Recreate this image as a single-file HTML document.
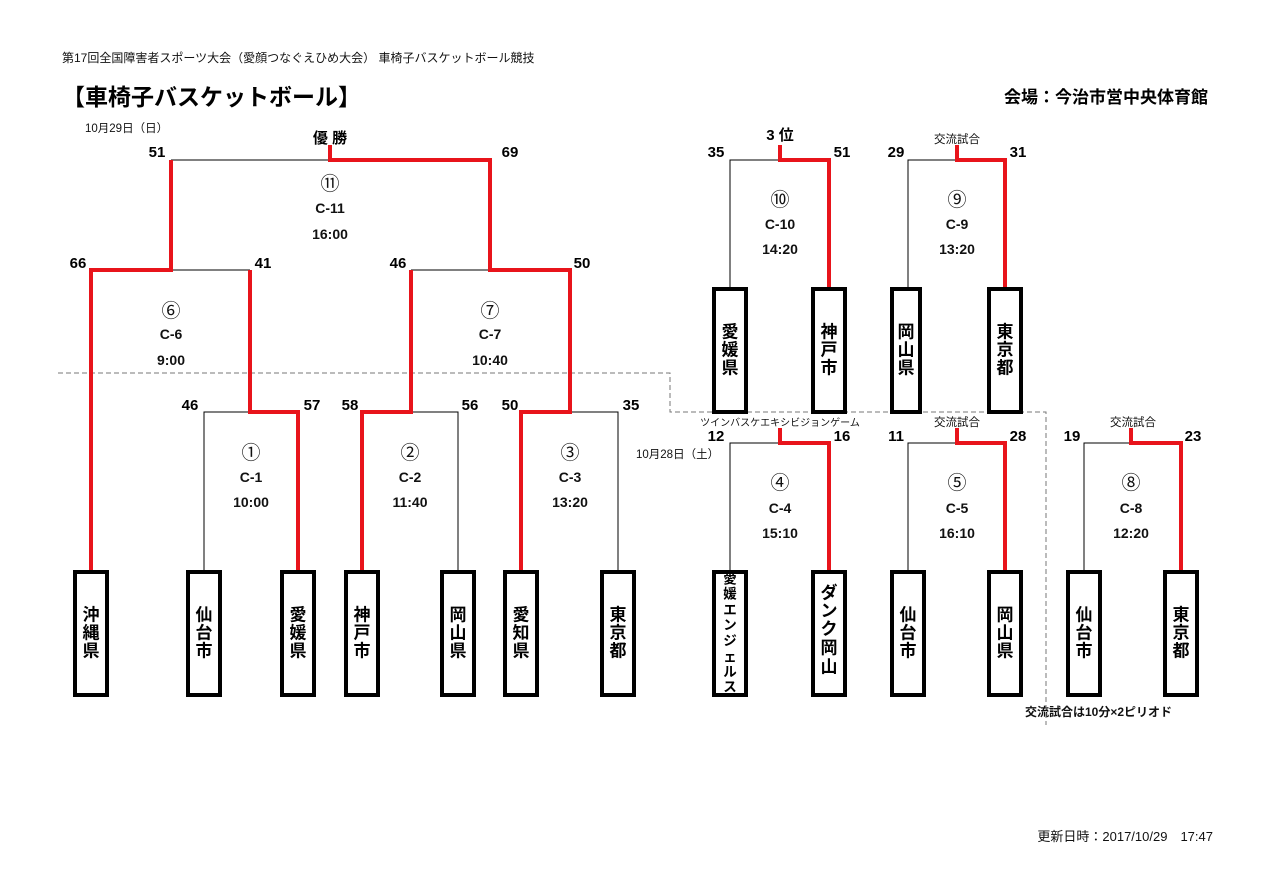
<!DOCTYPE html>
<html><head><meta charset="utf-8"><style>
html,body{margin:0;padding:0;background:#fff;}
svg{display:block;font-family:"Liberation Sans","Noto Sans CJK JP",sans-serif;}
.s{font-size:15px;font-weight:bold;text-anchor:middle;}
.c{font-size:14px;font-weight:bold;text-anchor:middle;fill:#111;}
.n{font-size:19px;font-weight:normal;}
.v{font-size:17px;font-weight:bold;text-anchor:middle;dominant-baseline:central;}
.sm{font-size:11.5px;fill:#111;}
</style></head><body>
<svg width="1271" height="895" viewBox="0 0 1271 895" xmlns="http://www.w3.org/2000/svg">
<text x="62" y="62" class="sm" style="font-size:12px">第17回全国障害者スポーツ大会（愛顔つなぐえひめ大会）  車椅子バスケットボール競技</text>
<text x="62" y="105" style="font-size:23px;font-weight:bold">【車椅子バスケットボール】</text>
<text x="1208" y="103" style="font-size:17px;font-weight:bold;text-anchor:end">会場：今治市営中央体育館</text>
<text x="85" y="132" class="sm">10月29日（日）</text>
<text x="636" y="458" class="sm">10月28日（土）</text>
<text x="780" y="426" class="sm" style="text-anchor:middle;font-size:10px">ツインバスケエキシビジョンゲーム</text>
<text x="957" y="143" class="sm" style="text-anchor:middle">交流試合</text>
<text x="957" y="426" class="sm" style="text-anchor:middle">交流試合</text>
<text x="1133" y="426" class="sm" style="text-anchor:middle">交流試合</text>
<text x="1025" y="716" class="sm" style="font-size:12px;font-weight:bold">交流試合は10分×2ピリオド</text>
<text x="1213" y="841" style="font-size:13px;text-anchor:end;fill:#111">更新日時：2017/10/29　17:47</text>

<path d="M58 373 H670 V412 H1046 V725" fill="none" stroke="#777" stroke-width="1" stroke-dasharray="5,3"/>

<g stroke="#000" stroke-width="1" fill="none">
<path d="M171 160 H330"/>
<path d="M171 270 H250"/>
<path d="M411 270 H490"/>
<path d="M204 570 V412 H250"/>
<path d="M411 412 H458 V570"/>
<path d="M570 412 H618 V570"/>
<path d="M730 287 V160 H780"/>
<path d="M908 287 V160 H957"/>
<path d="M730 570 V443 H780"/>
<path d="M908 570 V443 H957"/>
<path d="M1084 570 V443 H1131"/>
</g>
<g stroke="#e8141b" stroke-width="4" fill="none">
<path d="M330 145 V160 H490 V270 H570 V412 H521 V570"/>
<path d="M171 160 V270 H91 V570"/>
<path d="M250 270 V412 H298 V570"/>
<path d="M411 270 V412 H362 V570"/>
<path d="M780 145 V160 H829 V287"/>
<path d="M957 145 V160 H1005 V287"/>
<path d="M780 428 V443 H829 V570"/>
<path d="M957 428 V443 H1005 V570"/>
<path d="M1131 428 V443 H1181 V570"/>
</g>

<g stroke="#000" stroke-width="4" fill="#fff">
<rect x="75" y="572" width="32" height="123"/>
<rect x="188" y="572" width="32" height="123"/>
<rect x="282" y="572" width="32" height="123"/>
<rect x="346" y="572" width="32" height="123"/>
<rect x="442" y="572" width="32" height="123"/>
<rect x="505" y="572" width="32" height="123"/>
<rect x="602" y="572" width="32" height="123"/>
<rect x="714" y="289" width="32" height="123"/>
<rect x="813" y="289" width="32" height="123"/>
<rect x="892" y="289" width="28" height="123"/>
<rect x="989" y="289" width="32" height="123"/>
<rect x="714" y="572" width="32" height="123"/>
<rect x="813" y="572" width="32" height="123"/>
<rect x="892" y="572" width="32" height="123"/>
<rect x="989" y="572" width="32" height="123"/>
<rect x="1068" y="572" width="32" height="123"/>
<rect x="1165" y="572" width="32" height="123"/>
</g>

<g class="s">
<text x="330" y="143">優 勝</text>
<text x="157" y="157">51</text><text x="510" y="157">69</text>
<text x="78" y="268">66</text><text x="263" y="268">41</text>
<text x="398" y="268">46</text><text x="582" y="268">50</text>
<text x="190" y="410">46</text><text x="312" y="410">57</text>
<text x="350" y="410">58</text><text x="470" y="410">56</text>
<text x="510" y="410">50</text><text x="631" y="410">35</text>
<text x="780" y="140">3 位</text>
<text x="716" y="157">35</text><text x="842" y="157">51</text>
<text x="896" y="157">29</text><text x="1018" y="157">31</text>
<text x="716" y="441">12</text><text x="842" y="441">16</text>
<text x="896" y="441">11</text><text x="1018" y="441">28</text>
<text x="1072" y="441">19</text><text x="1193" y="441">23</text>
</g>

<g class="c">
<text x="330" y="190" class="n">⑪</text><text x="330" y="213">C-11</text><text x="330" y="239">16:00</text>
<text x="171" y="317" class="n">⑥</text><text x="171" y="339">C-6</text><text x="171" y="365">9:00</text>
<text x="490" y="317" class="n">⑦</text><text x="490" y="339">C-7</text><text x="490" y="365">10:40</text>
<text x="251" y="459" class="n">①</text><text x="251" y="482">C-1</text><text x="251" y="507">10:00</text>
<text x="410" y="459" class="n">②</text><text x="410" y="482">C-2</text><text x="410" y="507">11:40</text>
<text x="570" y="459" class="n">③</text><text x="570" y="482">C-3</text><text x="570" y="507">13:20</text>
<text x="780" y="206" class="n">⑩</text><text x="780" y="229">C-10</text><text x="780" y="254">14:20</text>
<text x="957" y="206" class="n">⑨</text><text x="957" y="229">C-9</text><text x="957" y="254">13:20</text>
<text x="780" y="489" class="n">④</text><text x="780" y="513">C-4</text><text x="780" y="538">15:10</text>
<text x="957" y="489" class="n">⑤</text><text x="957" y="513">C-5</text><text x="957" y="538">16:10</text>
<text x="1131" y="489" class="n">⑧</text><text x="1131" y="513">C-8</text><text x="1131" y="538">12:20</text>
</g>

<g class="v">
<text x="91" y="615">沖</text><text x="91" y="633">縄</text><text x="91" y="651">県</text>
<text x="204" y="615">仙</text><text x="204" y="633">台</text><text x="204" y="651">市</text>
<text x="298" y="615">愛</text><text x="298" y="633">媛</text><text x="298" y="651">県</text>
<text x="362" y="615">神</text><text x="362" y="633">戸</text><text x="362" y="651">市</text>
<text x="458" y="615">岡</text><text x="458" y="633">山</text><text x="458" y="651">県</text>
<text x="521" y="615">愛</text><text x="521" y="633">知</text><text x="521" y="651">県</text>
<text x="618" y="615">東</text><text x="618" y="633">京</text><text x="618" y="651">都</text>
<text x="730" y="332">愛</text><text x="730" y="350">媛</text><text x="730" y="368">県</text>
<text x="829" y="332">神</text><text x="829" y="350">戸</text><text x="829" y="368">市</text>
<text x="906" y="332">岡</text><text x="906" y="350">山</text><text x="906" y="368">県</text>
<text x="1005" y="332">東</text><text x="1005" y="350">京</text><text x="1005" y="368">都</text>
<text x="908" y="615">仙</text><text x="908" y="633">台</text><text x="908" y="651">市</text>
<text x="1005" y="615">岡</text><text x="1005" y="633">山</text><text x="1005" y="651">県</text>
<text x="1084" y="615">仙</text><text x="1084" y="633">台</text><text x="1084" y="651">市</text>
<text x="1181" y="615">東</text><text x="1181" y="633">京</text><text x="1181" y="651">都</text>
<text x="829" y="593">ダ</text><text x="829" y="611">ン</text><text x="829" y="629">ク</text><text x="829" y="648">岡</text><text x="829" y="667">山</text>
</g>
<g class="v" style="font-size:13.5px">
<text x="730" y="579">愛</text><text x="730" y="594">媛</text><text x="730" y="610">エ</text><text x="730" y="625">ン</text><text x="730" y="641">ジ</text><text x="730" y="657">ェ</text><text x="730" y="672">ル</text><text x="730" y="687">ス</text>
</g>
</svg>
</body></html>
